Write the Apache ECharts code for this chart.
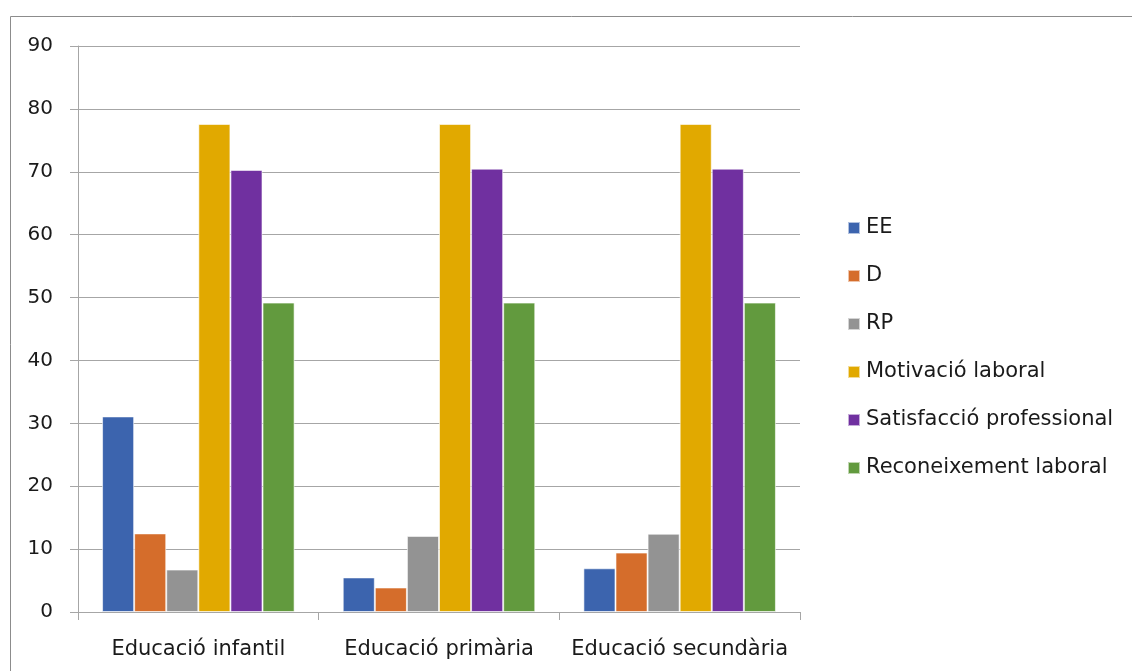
<!DOCTYPE html>
<html>
<head>
<meta charset="utf-8">
<script src="https://cdn.jsdelivr.net/npm/echarts@6/dist/echarts.min.js"></script>
<style>
html,body{margin:0;padding:0;background:#fff;}
#chart{width:1132px;height:671px;}
</style>
</head>
<body>
<div id="chart"></div>
<script>
const categories = ['Educació infantil', 'Educació primària', 'Educació secundària'];
const seriesNames = ['EE', 'D', 'RP', 'Motivació laboral', 'Satisfacció professional', 'Reconeixement laboral'];
const EE = [31.1, 5.5, 6.95];
const D = [12.5, 3.9, 9.45];
const RP = [6.75, 12.1, 12.45];
const motivacio = [77.6, 77.6, 77.6];
const satisfaccio = [70.3, 70.5, 70.5];
const reconeixement = [49.2, 49.2, 49.2];
const colors = ['#3C64AE', '#D56D2B', '#939393', '#E1A900', '#7030A0', '#629A3E'];

const seriesValues = [EE, D, RP, motivacio, satisfaccio, reconeixement];
const font = 'DejaVu Sans';
const chart = echarts.init(document.getElementById('chart'));
chart.setOption({
  animation: false,
  color: colors,
  textStyle: { fontFamily: font },
  graphic: [{
    type: 'rect',
    shape: { x: 10.5, y: 16.5, width: 1300, height: 1000 },
    style: { fill: 'none', stroke: '#8C8C8C', lineWidth: 1 },
    silent: true
  }],
  grid: { left: 78, right: 332, top: 46, bottom: 59, containLabel: false },
  legend: {
    orient: 'vertical',
    left: 842,
    top: 212,
    itemWidth: 12,
    itemHeight: 12,
    itemGap: 26,
    icon: 'rect',
    data: seriesNames,
    textStyle: { fontFamily: font, fontSize: 21, color: '#1a1a1a', lineHeight: 22, padding: [0, 0, 0, 1] }
  },
  xAxis: {
    type: 'category',
    data: categories,
    axisLine: { lineStyle: { color: '#A6A6A6', width: 1 } },
    axisTick: { show: true, interval: 0, length: 8, lineStyle: { color: '#A6A6A6' } },
    axisLabel: { interval: 0, fontFamily: font, fontSize: 21, color: '#1a1a1a', margin: 27 }
  },
  yAxis: {
    type: 'value',
    min: 0, max: 90, interval: 10,
    axisLine: { show: true, lineStyle: { color: '#A6A6A6', width: 1 } },
    axisTick: { show: true, length: 8, lineStyle: { color: '#A6A6A6' } },
    axisLabel: { fontFamily: font, fontSize: 20, color: '#1a1a1a', margin: 25 },
    splitLine: { lineStyle: { color: '#A6A6A6', width: 1 } }
  },
  series: seriesNames.map((n, i) => ({
    name: n,
    type: 'bar',
    data: seriesValues[i],
    barGap: '0%',
    barCategoryGap: '20%',
    itemStyle: { color: colors[i], borderColor: 'rgba(255,255,255,0.6)', borderWidth: 1 }
  }))
});
</script>
</body>
</html>
